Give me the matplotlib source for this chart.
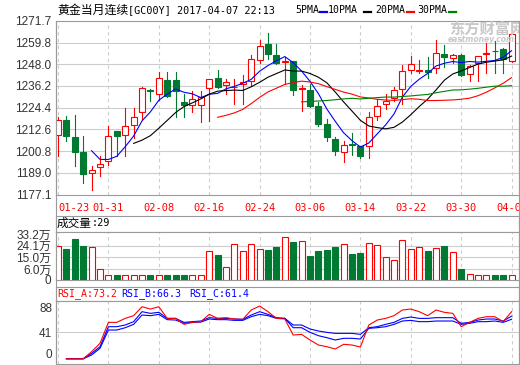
import numpy as np
import matplotlib
matplotlib.use('Agg')
import matplotlib.pyplot as plt
from matplotlib.patches import Rectangle
from matplotlib.lines import Line2D

W, H = 520, 365

# daily OHLC (01-23 .. 04-07)
opens = [1209.4, 1217.5, 1208.5, 1200.1, 1188.7, 1192.0, 1195.6, 1211.5, 1209.7, 1214.8,
         1221.9, 1234.2, 1232.0, 1239.4, 1239.4, 1227.5, 1226.0, 1225.7, 1234.9, 1240.4,
         1236.5, 1235.5, 1237.1, 1238.7, 1250.5, 1259.0, 1252.9, 1249.0, 1250.0, 1234.6,
         1234.2, 1225.5, 1215.5, 1207.4, 1200.1, 1204.7, 1203.4, 1203.4, 1219.7, 1226.4,
         1229.7, 1234.6, 1244.7, 1244.5, 1244.7, 1246.0, 1253.6, 1251.4, 1252.9, 1242.7,
         1248.7, 1253.6, 1255.4, 1256.3, 1249.6]
highs = [1219.3, 1219.7, 1220.2, 1208.8, 1192.5, 1198.0, 1214.3, 1211.8, 1224.2, 1224.2,
         1235.5, 1234.7, 1243.8, 1243.8, 1243.8, 1232.0, 1233.3, 1233.7, 1240.0, 1244.7,
         1240.2, 1240.2, 1242.0, 1253.2, 1261.0, 1265.0, 1259.0, 1251.8, 1250.0, 1236.9,
         1237.3, 1227.5, 1218.2, 1208.5, 1206.1, 1210.6, 1203.8, 1221.9, 1229.1, 1231.8,
         1235.5, 1247.4, 1252.3, 1250.5, 1251.8, 1261.4, 1258.3, 1253.6, 1253.6, 1247.8,
         1252.3, 1259.6, 1260.5, 1256.8, 1269.2]
lows = [1198.0, 1206.1, 1192.5, 1183.3, 1179.5, 1187.1, 1193.4, 1198.0, 1198.0, 1207.9,
        1218.3, 1228.2, 1228.8, 1230.2, 1219.3, 1219.2, 1222.1, 1216.6, 1217.3, 1235.1,
        1231.8, 1226.4, 1226.4, 1236.0, 1248.7, 1251.0, 1248.1, 1237.4, 1231.1, 1222.8,
        1224.6, 1214.3, 1206.1, 1198.9, 1194.9, 1198.9, 1197.0, 1197.0, 1217.9, 1223.9,
        1227.8, 1226.4, 1243.3, 1243.3, 1240.5, 1243.3, 1246.3, 1248.7, 1241.4, 1238.7,
        1238.7, 1243.3, 1243.3, 1243.3, 1249.0]
closes = [1217.5, 1208.8, 1200.1, 1188.3, 1190.3, 1193.8, 1208.8, 1208.8, 1214.3, 1219.2,
          1235.1, 1233.3, 1240.4, 1230.9, 1233.3, 1226.0, 1229.1, 1230.2, 1240.0, 1235.6,
          1238.4, 1235.8, 1238.4, 1250.9, 1257.7, 1253.8, 1248.7, 1249.9, 1234.2, 1235.1,
          1225.5, 1215.5, 1208.3, 1200.7, 1203.9, 1203.9, 1198.3, 1219.2, 1225.5, 1228.2,
          1233.8, 1244.2, 1248.3, 1244.9, 1243.8, 1254.1, 1251.8, 1252.9, 1242.0, 1246.9,
          1252.3, 1254.1, 1255.0, 1251.0, 1264.5]
# volume in 万 (as drawn)
volumes = [23.9, 21.9, 29.7, 23.9, 23.2, 6.0, 1.4, 1.4, 1.4, 1.4,
           1.4, 1.4, 1.4, 1.4, 1.4, 1.4, 1.4, 1.4, 20.0, 16.9,
           7.3, 25.2, 20.0, 25.2, 21.6, 20.8, 23.2, 30.7, 27.1, 27.8,
           16.1, 20.0, 20.8, 23.2, 25.2, 17.7, 18.5, 26.0, 24.5, 15.1,
           12.8, 28.4, 21.3, 22.9, 20.0, 22.1, 23.9, 19.0, 6.0, 1.8,
           1.4, 1.4, 1.4, 1.4, 1.4]
# RSI lines, from the 2nd day on
rsi_a = [0, 0, 0, 11.1, 24.0, 56.6, 56.6, 62.8, 67.0, 80.9,
         77.3, 80.9, 62.8, 62.8, 53.5, 56.6, 57.7, 69.0, 62.8, 63.9,
         61.8, 61.3, 75.8, 82.0, 73.2, 62.8, 61.8, 36.9, 37.9, 29.2,
         21.4, 18.8, 15.2, 22.5, 21.4, 18.3, 52.5, 60.2, 62.8, 67.0,
         75.8, 77.3, 73.2, 67.0, 75.8, 72.2, 70.6, 49.9, 56.6, 62.8,
         65.4, 65.4, 57.7, 73.2]
rsi_b = [0, 0, 0, 8.5, 18.8, 49.9, 49.9, 52.5, 57.7, 73.2,
         70.6, 72.2, 62.8, 62.8, 56.6, 57.7, 58.7, 63.9, 62.8, 62.8,
         61.8, 61.3, 68.0, 73.2, 69.0, 63.9, 62.8, 52.5, 52.5, 46.3,
         43.2, 41.1, 39.5, 39.5, 39.5, 38.0, 48.3, 49.9, 53.5, 56.6,
         62.8, 64.9, 62.8, 62.8, 63.9, 63.9, 63.9, 55.1, 56.6, 60.2,
         61.8, 61.8, 58.7, 66.3]
rsi_c = [0, 0, 0, 5.9, 16.3, 44.7, 44.7, 48.3, 53.5, 68.0,
         67.0, 69.0, 60.8, 60.2, 55.1, 56.6, 57.1, 61.8, 60.8, 60.8,
         59.7, 59.7, 65.4, 69.0, 67.0, 62.8, 62.8, 48.3, 48.3, 41.1,
         35.9, 32.8, 29.2, 31.8, 31.8, 30.7, 47.3, 48.3, 49.9, 53.5,
         58.7, 59.7, 57.7, 57.7, 58.7, 58.7, 58.7, 53.5, 55.1, 57.7,
         57.7, 58.7, 56.6, 61.4]

tick_pos = [0, 6, 12, 18, 24, 30, 36, 42, 48, 54]
tick_dates = ['01-23', '01-31', '02-08', '02-16', '02-24', '03-06', '03-14', '03-22', '03-30', '04-07']
price_ticks = [1177.1, 1189.0, 1200.8, 1212.6, 1224.4, 1236.2, 1248.0, 1259.8, 1271.7]
vol_ticks = [6.0, 15.0, 24.1, 33.2]
ma_periods = [5, 10, 20, 30]
ma_colors = ['#0000ff', '#000000', '#ff0000', '#008000']
rsi_names = ['RSI_A', 'RSI_B', 'RSI_C']
rsi_shown = [73.2, 66.3, 61.4]
rsi_colors = ['#ff0000', '#0000ff', '#0000ff']
vol_shown = 29

RED = '#ff0000'
GREEN = '#007a33'
GRID = '#cdcdcd'
FRAME = '#9a9a9a'
MONO = ['DejaVu Sans Mono', 'Noto Sans CJK SC']
CJK = ['Noto Sans CJK SC', 'DejaVu Sans']

plt.rcParams['font.family'] = ['Liberation Sans', 'Noto Sans CJK SC']


def px_rect(l, t, r, b):
    return [l / W, 1 - b / H, (r - l) / W, (b - t) / H]


def fy(y):
    return 1 - y / H


o = np.array(opens)
h = np.array(highs)
l = np.array(lows)
c = np.array(closes)
v = np.array(volumes)
n = len(c)
x = np.arange(n)
up = c >= o
xlim = (-0.24, 54.88)


def style(ax):
    for sp in ax.spines.values():
        sp.set_color(FRAME)
        sp.set_linewidth(0.8)
    ax.set_xlim(*xlim)
    ax.tick_params(length=0, colors='#333333', labelsize=8.5)
    for t in tick_pos:
        ax.axvline(t, color=GRID, lw=0.8, ls=(0, (3, 3)), zorder=0)


def frame_only(ax):
    for sp in ax.spines.values():
        sp.set_color(FRAME)
        sp.set_linewidth(0.8)
    ax.set_xticks([])
    ax.set_yticks([])


fig = plt.figure(figsize=(W / 100, H / 100), dpi=100)

# ---- price panel
ax = fig.add_axes(px_rect(56, 20.7, 519, 194.7))
style(ax)
ax.set_ylim(price_ticks[0], price_ticks[-1])
ax.set_yticks(price_ticks)
ax.set_yticklabels(['%.1f' % p for p in price_ticks])
for p in price_ticks[1:-1]:
    ax.axhline(p, color=GRID, lw=0.8, zorder=0)
ax.set_xticks(tick_pos)
ax.set_xticklabels(tick_dates, family=MONO, fontsize=7.5, color=RED)
ax.tick_params(axis='x', pad=6)
ax.get_xticklabels()[0].set_ha('left')

bw = 0.7
for i in range(n):
    top, bot = max(o[i], c[i]), min(o[i], c[i])
    if up[i]:
        ax.plot([i, i], [top, h[i]], color=RED, lw=0.8, zorder=2)
        ax.plot([i, i], [l[i], bot], color=RED, lw=0.8, zorder=2)
        ax.add_patch(Rectangle((i - bw / 2, bot), bw, top - bot, facecolor='white',
                               edgecolor=RED, lw=0.8, zorder=3))
    else:
        ax.plot([i, i], [l[i], h[i]], color=GREEN, lw=0.8, zorder=2)
        ax.add_patch(Rectangle((i - bw / 2, bot), bw, max(top - bot, 0.3), facecolor=GREEN,
                               edgecolor=GREEN, lw=0.8, zorder=3))

for per, col in zip(ma_periods, ma_colors):
    ma = np.convolve(c, np.ones(per) / per, mode='valid')
    ax.plot(x[per - 1:], ma, color=col, lw=0.8, zorder=4)

# watermark
wm = fig.text(449 / W, fy(28.5), '东方财富网', family=CJK, fontsize=11, fontweight='bold',
              color='#c8c8c8', va='center', ha='left', zorder=1)
wm.set_clip_box(ax.bbox)
wm.set_clip_on(True)
wm2 = fig.text(448 / W, fy(40), 'eastmoney.com', family=['DejaVu Sans'], fontsize=5.5,
               fontweight='bold', style='italic', color='#c8c8c8', va='center', ha='left')
wm2.set_clip_box(ax.bbox)
wm2.set_clip_on(True)

# ---- header line
fig.text(57 / W, fy(10), '黄金当月连续', family=CJK, fontsize=8.6, va='center')
fig.text(128 / W, fy(10), '[GC00Y] 2017-04-07 22:13', family=MONO, fontsize=7.3, va='center')
legend_x = [(295, 320), (328, 364), (375, 407), (417, 449)]
for per, col, (tx, dx) in zip(ma_periods, ma_colors, legend_x):
    fig.text(tx / W, fy(10), '%dPMA' % per, family=MONO, fontsize=7.1, va='center')
    fig.add_artist(Line2D([dx / W, (dx + 7) / W], [fy(12), fy(12)], color=col, lw=1.6))

# ---- volume panel
vol_floor = -2.6
axh = fig.add_axes(px_rect(56, 216, 519, 232.3))
frame_only(axh)
fig.text(57 / W, fy(223.5), '成交量', family=CJK, fontsize=8.4, va='center')
fig.text(92 / W, fy(223.5), ':%d' % vol_shown, family=MONO, fontsize=7.3, va='center')

axv = fig.add_axes(px_rect(56, 232.3, 519, 280))
style(axv)
axv.set_ylim(vol_floor, 34.6)
axv.set_yticks([vol_floor] + vol_ticks)
axv.set_yticklabels(['0'] + ['%.1f万' % t for t in vol_ticks])
axv.set_xticks([])
for t in vol_ticks[:-1]:
    axv.axhline(t, color=GRID, lw=0.8, zorder=0)
vw = 0.72
for i in range(n):
    if up[i]:
        axv.add_patch(Rectangle((i - vw / 2, vol_floor), vw, v[i] - vol_floor,
                                facecolor='white', edgecolor=RED, lw=0.8, zorder=3))
    else:
        axv.add_patch(Rectangle((i - vw / 2, vol_floor), vw, v[i] - vol_floor,
                                facecolor=GREEN, edgecolor=GREEN, lw=0.8, zorder=3))

# ---- RSI panel
axr_h = fig.add_axes(px_rect(56, 287, 519, 301))
frame_only(axr_h)
rsi_x = [57, 121.7, 189]
for name, val, col, tx in zip(rsi_names, rsi_shown, rsi_colors, rsi_x):
    fig.text(tx / W, fy(294), '%s:%.1f' % (name, val), family=MONO, fontsize=7.1,
             color=col, va='center')

axr = fig.add_axes(px_rect(56, 301, 519, 364))
style(axr)
axr.set_ylim(-8.1, 89.8)
axr.set_yticks([])
axr.set_xticks([])
axr.axhline(41, color=GRID, lw=0.8, zorder=0)
for lab, yy in zip(['88', '41', '0'], [309, 333.8, 355.3]):
    fig.text(52 / W, fy(yy), lab, fontsize=8.5, color='#333333', ha='right', va='center')

for series, col in zip([rsi_c, rsi_b, rsi_a], ['#0000ff', '#0000ff', '#ff0000']):
    axr.plot(x[1:], series, color=col, lw=0.8, zorder=3)

# continuous outer borders
for bx in (56, 519):
    fig.add_artist(Line2D([bx / W, bx / W], [fy(20.7), fy(364)], color=FRAME, lw=0.8))

fig.savefig('out.png', dpi=100)
